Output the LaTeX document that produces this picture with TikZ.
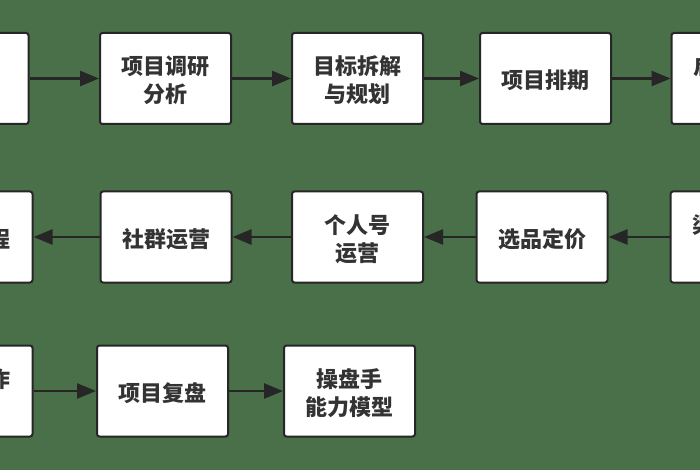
\documentclass[tikz,border=0pt]{standalone}
\usepackage{fontspec}
\newfontfamily\cjk{Noto Sans CJK SC}
\usetikzlibrary{arrows.meta}
\definecolor{bg}{HTML}{4A7049}
\definecolor{edge}{HTML}{262626}
\definecolor{txt}{HTML}{333333}
\newcommand\lbl[1]{\raisebox{-4.5pt}[\height][\depth]{\begin{tabular}{@{}c@{}}#1\end{tabular}}}
\tikzset{
  box/.style={draw=edge, fill=white, line width=2pt, rounded corners=2.5pt,
    minimum width=131pt, minimum height=91pt, align=center, inner sep=0pt,
    text=txt, font=\cjk\bfseries\fontsize{22}{28}\selectfont},
  flow/.style={draw=edge, line width=2.5pt, -{Triangle[length=19pt,width=15pt]}}
}
\begin{document}
\begin{tikzpicture}[x=1pt,y=-1pt]
\path[use as bounding box] (0,0) rectangle (700,470);
\clip (0,0) rectangle (700,470);
\fill[bg] (0,0) rectangle (700,470);
% row 1
\node[box] (a1) at (-37,78.5) {};
\node[box] (a2) at (165.5,78.5) {\lbl{项目调研\\分析}};
\node[box] (a3) at (357.5,78.5) {\lbl{目标拆解\\与规划}};
\node[box] (a4) at (545.5,78.5) {\lbl{项目排期}};
\node[box] (a5) at (737,78.5) {\lbl{启动准备\\会议}};
% row 2
\node[box] (b1) at (736,237) {\lbl{渠道招募\\搭建}};
\node[box] (b2) at (542,237) {\lbl{选品定价}};
\node[box] (b3) at (357.5,237) {\lbl{个人号\\运营}};
\node[box] (b4) at (166,237) {\lbl{社群运营}};
\node[box] (b5) at (-33,237) {\lbl{成交流程\\ }};
% row 3
\node[box] (c1) at (-33,391) {\lbl{内容制作\\发布}};
\node[box] (c2) at (162.5,391) {\lbl{项目复盘}};
\node[box] (c3) at (349.5,391) {\lbl{操盘手\\能力模型}};
% connectors
\draw[flow] (a1) -- (a2);
\draw[flow] (a2) -- (a3);
\draw[flow] (a3) -- (a4);
\draw[flow] (a4) -- (a5);
\draw[flow] (b1) -- (b2);
\draw[flow] (b2) -- (b3);
\draw[flow] (b3) -- (b4);
\draw[flow] (b4) -- (b5);
\draw[flow] (c1) -- (c2);
\draw[flow] (c2) -- (c3);
\end{tikzpicture}
\end{document}
